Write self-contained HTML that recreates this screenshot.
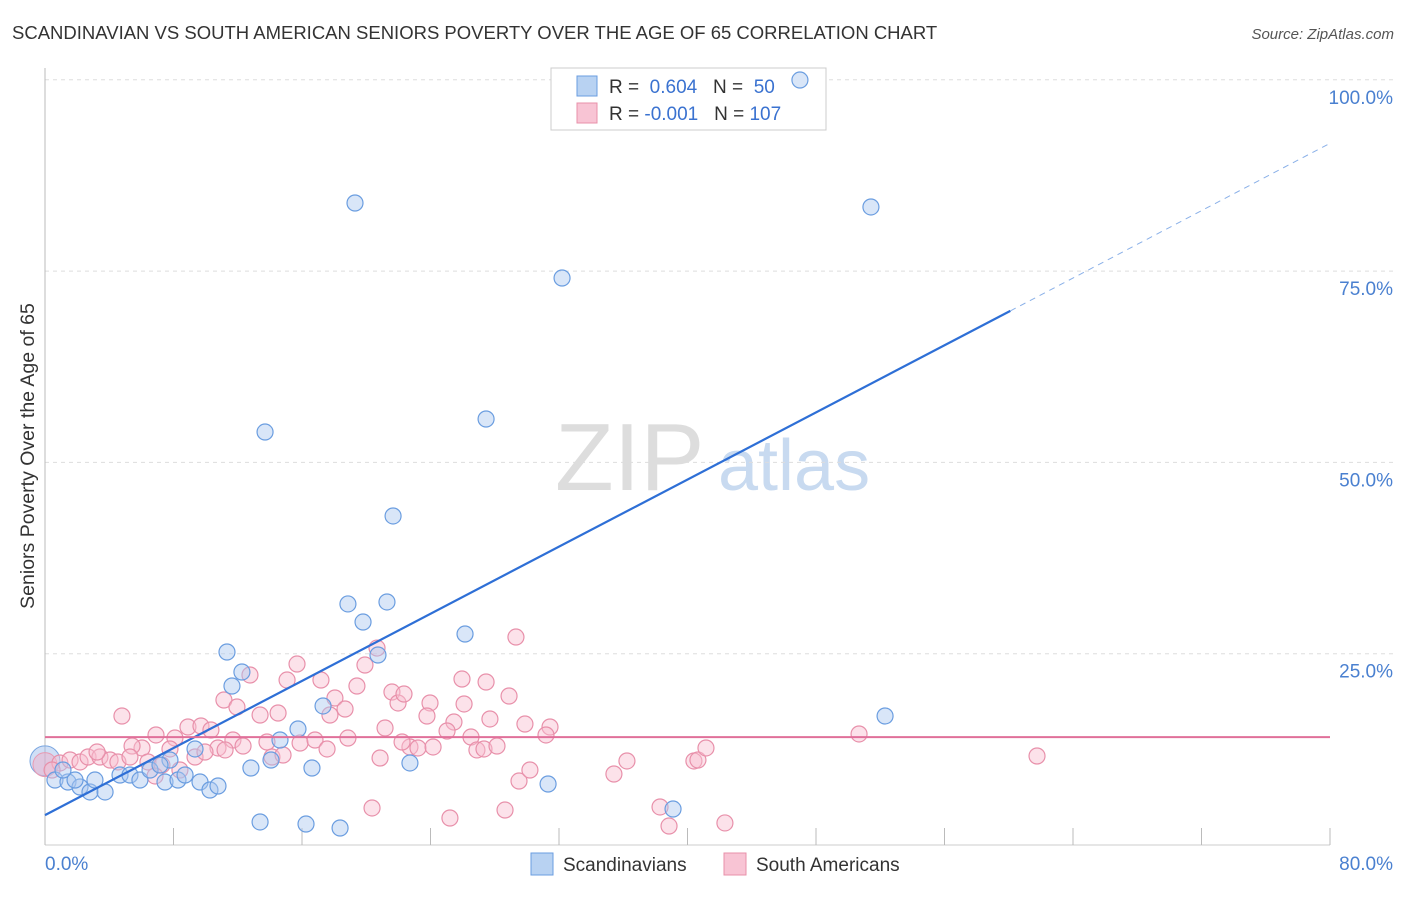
<!DOCTYPE html>
<html><head><meta charset="utf-8"><style>
body{margin:0;background:#fff;font-family:"Liberation Sans",sans-serif}
svg text{font-family:"Liberation Sans",sans-serif}
</style></head><body>
<svg width="1406" height="892" id="chart">
<text x="12" y="39" font-size="18.5" fill="#333">SCANDINAVIAN VS SOUTH AMERICAN SENIORS POVERTY OVER THE AGE OF 65 CORRELATION CHART</text>
<text x="1394" y="39" font-size="15" fill="#555" font-style="italic" text-anchor="end">Source: ZipAtlas.com</text>
<text x="34" y="456" font-size="19.5" fill="#333" text-anchor="middle" transform="rotate(-90 34 456)">Seniors Poverty Over the Age of 65</text>
<text x="555" y="490" font-size="96" fill="#ddd" font-family="Liberation Serif">ZIP</text>
<text x="718" y="490" font-size="72" fill="#c8daf0">atlas</text>
<g id="grid"></g>
<g>
<rect x="551" y="68" width="275" height="62" fill="#fff" stroke="#ccc"/>
<rect x="577" y="76" width="20" height="20" fill="#b8d2f2" stroke="#6a9de0"/>
<rect x="577" y="103" width="20" height="20" fill="#f8c4d4" stroke="#e890aa"/>
<text x="609" y="93" font-size="19" fill="#333">R = <tspan fill="#3a72d0">&#160;0.604</tspan>&#160;&#160;&#160;N = <tspan fill="#3a72d0">&#160;50</tspan></text>
<text x="609" y="120" font-size="19" fill="#333">R = <tspan fill="#3a72d0">-0.001</tspan>&#160;&#160;&#160;N = <tspan fill="#3a72d0">107</tspan></text>
</g>
<g id="pts"></g><g id="lines"></g>
<g>
<rect x="531" y="853" width="22" height="22" fill="#b8d2f2" stroke="#6a9de0"/>
<text x="563" y="871" font-size="19" fill="#333">Scandinavians</text>
<rect x="724" y="853" width="22" height="22" fill="#f8c4d4" stroke="#e890aa"/>
<text x="756" y="871" font-size="19" fill="#333">South Americans</text>
</g>
</svg>
<script>
const yTicks=[100,75,50,25];
const yTickLabels=["100.0%","75.0%","50.0%","25.0%"];
const xTickLabels=["0.0%","80.0%"];
const bluePx=[[800,80],[355,203],[871,207],[562,278],[265,432],[486,419],[393,516],[348,604],[387,602],[363,622],[465,634],[227,652],[378,655],[242,672],[232,686],[323,706],[885,716],[280,740],[298,729],[195,749],[170,760],[271,760],[251,768],[312,768],[410,763],[55,780],[68,782],[80,787],[90,792],[105,792],[75,780],[120,775],[130,775],[140,780],[150,770],[165,782],[178,780],[185,775],[200,782],[210,790],[218,786],[548,784],[673,809],[260,822],[306,824],[340,828],[95,780],[63,770],[160,765]];
const pinkPx=[[122,716],[377,648],[516,637],[297,664],[250,675],[224,700],[237,707],[260,715],[278,713],[287,680],[321,680],[335,698],[345,709],[330,715],[357,686],[365,665],[392,692],[398,703],[404,694],[430,703],[462,679],[464,704],[486,682],[490,719],[509,696],[427,716],[454,722],[525,724],[550,727],[546,735],[156,735],[142,748],[132,746],[175,738],[188,727],[201,726],[211,730],[218,748],[233,740],[243,746],[267,742],[272,757],[283,755],[300,743],[315,740],[327,749],[348,738],[385,728],[410,747],[418,748],[433,747],[447,731],[471,737],[477,750],[484,749],[497,746],[380,758],[402,742],[519,781],[530,770],[505,810],[450,818],[372,808],[614,774],[627,761],[660,807],[669,826],[694,761],[698,760],[706,748],[725,823],[859,734],[1037,756],[60,763],[70,760],[80,762],[88,757],[100,757],[110,760],[118,762],[130,757],[148,762],[162,765],[180,770],[195,757],[205,752],[225,750],[52,770],[97,752],[170,749],[155,776]];
const blueX=bluePx.map(p=>+((p[0]-45)/1285*80).toFixed(2)), blueY=bluePx.map(p=>+((845-p[1])/765.2*100).toFixed(2));
const pinkX=pinkPx.map(p=>+((p[0]-45)/1285*80).toFixed(2)), pinkY=pinkPx.map(p=>+((845-p[1])/765.2*100).toFixed(2));
const X=v=>45+v/80*1285, Y=v=>845-v/100*765.2;
const NS="http://www.w3.org/2000/svg";
function mk(t,a,p){const e=document.createElementNS(NS,t);for(const k in a)e.setAttribute(k,a[k]);document.getElementById(p).appendChild(e);return e;}
yTicks.forEach((t,i)=>{
 const l=mk('line',{x1:45,x2:1393,y1:Y(t),y2:Y(t),stroke:'#ddd','stroke-dasharray':'4,4'},'grid');
 
 
 const tx=mk('text',{x:1393,y:Y(t)+24,'font-size':19,fill:'#4a80d0','text-anchor':'end'},'grid');
 tx.textContent=yTickLabels[i];
 
 
});
mk('line',{x1:45,x2:45,y1:68,y2:845,stroke:'#bbb'},'grid');
mk('line',{x1:45,x2:1330,y1:845,y2:845,stroke:'#ccc'},'grid');
for(let i=0;i<=10;i++){const e=mk('line',{x1:X(i*8),x2:X(i*8),y1:828,y2:845,stroke:'#bbb'},'grid');
 
 }
[[0,'start',45],[80,'end',1393]].forEach((d,i)=>{const t=mk('text',{x:d[2],y:870,'font-size':19,fill:'#4a80d0','text-anchor':d[1]},'grid');t.textContent=xTickLabels[i];
 
 });
mk('circle',{cx:X(0),cy:Y(11),r:15,fill:'rgba(150,185,235,0.45)',stroke:'#7aa6e0'},'pts');
mk('circle',{cx:X(0),cy:Y(10.5),r:12,fill:'rgba(245,170,195,0.45)',stroke:'#e89ab2'},'pts');
pinkX.forEach((x,i)=>{const c=mk('circle',{cx:X(x),cy:Y(pinkY[i]),r:8,fill:'rgba(248,190,208,0.45)',stroke:'#e890aa','stroke-width':1.2},'pts');
 
 });
blueX.forEach((x,i)=>{const c=mk('circle',{cx:X(x),cy:Y(blueY[i]),r:8,fill:'rgba(170,200,240,0.45)',stroke:'#6a9de0','stroke-width':1.2},'pts');
 
 });
const l1=mk('line',{x1:X(0),y1:Y(3.9),x2:X(60.1),y2:Y(69.8),stroke:'#2e6fd6','stroke-width':2.2},'lines');


mk('line',{x1:X(60.1),y1:Y(69.8),x2:X(80),y2:Y(91.7),stroke:'#8ab0e8','stroke-width':1,'stroke-dasharray':'6,5'},'lines');
const l2=mk('line',{x1:X(0),y1:Y(14.1),x2:X(80),y2:Y(14.1),stroke:'#e0709a','stroke-width':2},'lines');


</script>
</body></html>
